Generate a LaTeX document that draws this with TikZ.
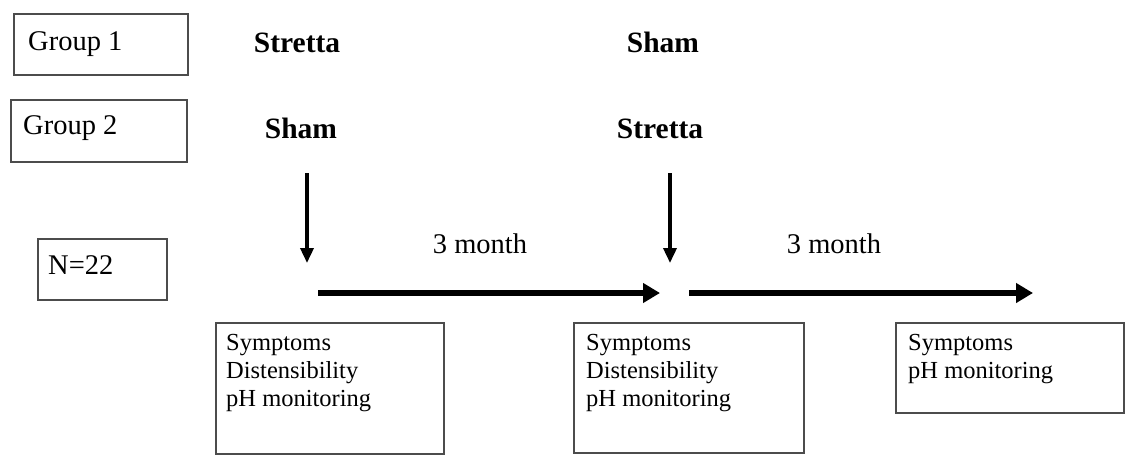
\documentclass[tikz,border=0pt]{standalone}
\usepackage{fontspec}
\setmainfont{Liberation Serif}
\usetikzlibrary{arrows.meta}
\tikzstyle{frame}=[draw=black!70,line width=1.6pt,anchor=north west]
\tikzstyle{plain}=[font=\fontsize{28.5}{30}\selectfont,inner sep=0pt]
\tikzstyle{arm}=[font=\fontsize{29.5}{31}\selectfont\bfseries,inner sep=0pt,anchor=base]
\tikzstyle{meas}=[font=\fontsize{24.5}{28}\selectfont,align=left,anchor=north west,inner sep=0pt]
\tikzstyle{downarrow}=[line width=3.5pt,-{Triangle[length=15pt,width=13pt]}]
\tikzstyle{timearrow}=[line width=6pt,-{Triangle[length=17pt,width=19pt]}]

\begin{document}
\begin{tikzpicture}[x=1pt,y=-1pt]
		\useasboundingbox (0,0) rectangle (1127,455);

		% groups and sample size
		\node[frame,minimum width=174pt,minimum height=61pt] (grp1) at (13,13) {};
		\node[frame,minimum width=176pt,minimum height=62pt] (grp2) at (10,99) {};
		\node[frame,minimum width=129pt,minimum height=61pt] (nbox) at (37,238) {};
		\node[plain,anchor=base west] (grp1txt) at ([xshift=15pt,yshift=-37pt]grp1.north west) {Group 1};
		\node[plain,anchor=base west] (grp2txt) at ([xshift=13pt,yshift=-35pt]grp2.north west) {Group 2};
		\node[plain,anchor=base west] (ntxt) at ([xshift=11pt,yshift=-36pt]nbox.north west) {N=22};

		% treatment arms
		\node[arm] (strettaL) at (297,52) {Stretta};
		\node[arm] (shamR) at (663,52) {Sham};
		\node[arm] (shamL) at (301,138) {Sham};
		\node[arm] (strettaR) at (660,138) {Stretta};

		\coordinate (tip1) at (307,263);
		\coordinate (tip2) at (670,263);
		\draw[downarrow] ([xshift=6pt,yshift=-35pt]shamL.base) -- (tip1);
		\draw[downarrow] ([xshift=10pt,yshift=-35pt]strettaR.base) -- (tip2);

		% time line
		\coordinate (t0) at (318,293);
		\coordinate (t1) at (660,293);
		\coordinate (t2) at (689,293);
		\coordinate (t3) at (1033,293);
		\draw[timearrow] (t0) -- (t1);
		\draw[timearrow] (t2) -- (t3);
		\node[plain,anchor=base] (gap1) at (480,253) {3 month};
		\node[plain,anchor=base] (gap2) at (834,253) {3 month};

		% measurements
		\foreach \n / \x / \w / \h in {A/215/228/131,B/573/230/130,C/895/228/90} {
			\node[frame,minimum width=\w pt,minimum height=\h pt] (out\n) at (\x,322) {};
		}
		\node[meas] (txtA) at ([xshift=11pt,yshift=-12pt]outA.north west) {Symptoms\\Distensibility\\pH monitoring};
		\node[meas] (txtB) at ([xshift=13pt,yshift=-12pt]outB.north west) {Symptoms\\Distensibility\\pH monitoring};
		\node[meas] (txtC) at ([xshift=13pt,yshift=-12pt]outC.north west) {Symptoms\\pH monitoring};
	\end{tikzpicture}
\end{document}
